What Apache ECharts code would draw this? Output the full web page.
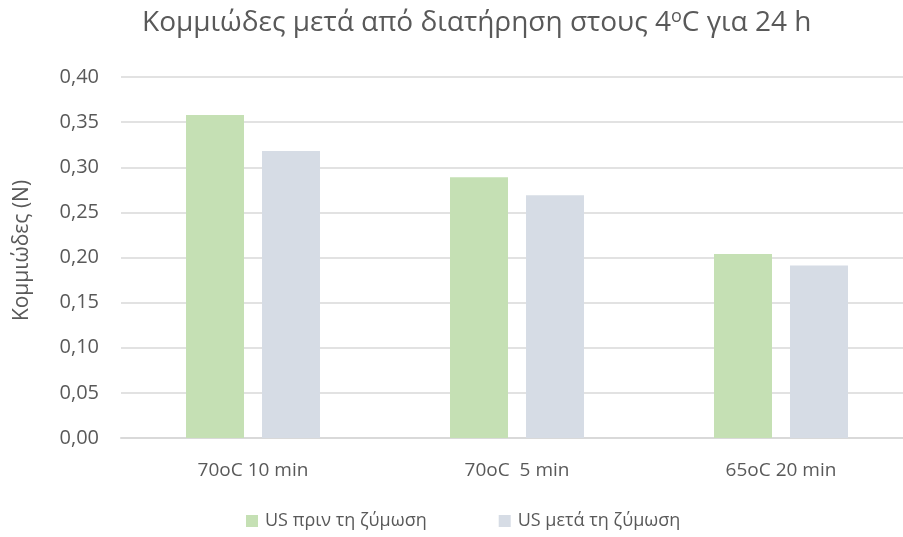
<!DOCTYPE html>
<html>
<head>
<meta charset="utf-8">
<script src="https://cdn.jsdelivr.net/npm/echarts@6/dist/echarts.min.js"></script>
<style>
  html, body { margin: 0; padding: 0; background: #fff; }
  #chart { width: 903px; height: 537px; }
</style>
</head>
<body>
<div id="chart"></div>
<script>
// Treatment conditions along the x axis
const categories = ['70oC 10 min', '70oC  5 min', '65oC 20 min'];
// Gumminess (N) before and after fermentation
const seriesNames = ['US πριν τη ζύμωση', 'US μετά τη ζύμωση'];
const beforeFermentation = [0.358, 0.289, 0.204];
const afterFermentation = [0.318, 0.269, 0.191];
// Value axis range
const yMin = 0, yMax = 0.40, yStep = 0.05;

const FONT = '"Open Sans", "Noto Sans", sans-serif';
const TEXT = '#595959';

const chart = echarts.init(document.getElementById('chart'));
chart.setOption({
  animation: false,
  backgroundColor: '#ffffff',
  title: {
    text: 'Κομμιώδες μετά από διατήρηση στους 4{s|o}C για 24 h',
    left: 137,
    top: 3,
    textStyle: {
      fontFamily: FONT, fontSize: 28, fontWeight: 'normal', color: TEXT,
      rich: {
        s: { fontFamily: FONT, fontSize: 18, color: TEXT, verticalAlign: 'top', padding: [0, 0, 12, 0] }
      }
    }
  },
  grid: { left: 121, top: 77, width: 792, height: 361, containLabel: false, outerBoundsMode: 'none' },
  legend: {
    data: seriesNames,
    bottom: 2,
    left: 241,
    itemWidth: 12,
    itemHeight: 12,
    itemGap: 72,
    icon: 'rect',
    textStyle: { fontFamily: FONT, fontSize: 18, color: TEXT, padding: [0, 0, 0, 2] }
  },
  xAxis: {
    type: 'category',
    data: categories,
    axisLine: { lineStyle: { color: '#d9d9d9', width: 2 } },
    axisTick: { show: false },
    axisLabel: { fontFamily: FONT, fontSize: 19, color: TEXT, margin: 23 }
  },
  yAxis: {
    type: 'value',
    min: yMin, max: yMax, interval: yStep,
    name: 'Κομμιώδες (N)',
    nameLocation: 'middle',
    nameGap: 88,
    nameTextStyle: { fontFamily: FONT, fontSize: 21, color: TEXT, padding: [0, 0, 0, 14] },
    axisLine: { show: false },
    axisTick: { show: false },
    splitLine: { lineStyle: { color: '#d9d9d9', width: 1.5 } },
    axisLabel: {
      fontFamily: FONT, fontSize: 20, color: TEXT, margin: 22,
      formatter: v => v.toFixed(2).replace('.', ',')
    }
  },
  series: [
    {
      name: seriesNames[0], type: 'bar', data: beforeFermentation,
      barWidth: 58, barGap: '31%',
      itemStyle: { color: '#c5e0b4' }
    },
    {
      name: seriesNames[1], type: 'bar', data: afterFermentation,
      barWidth: 58,
      itemStyle: { color: '#d6dce5' }
    }
  ]
});
</script>
</body>
</html>
